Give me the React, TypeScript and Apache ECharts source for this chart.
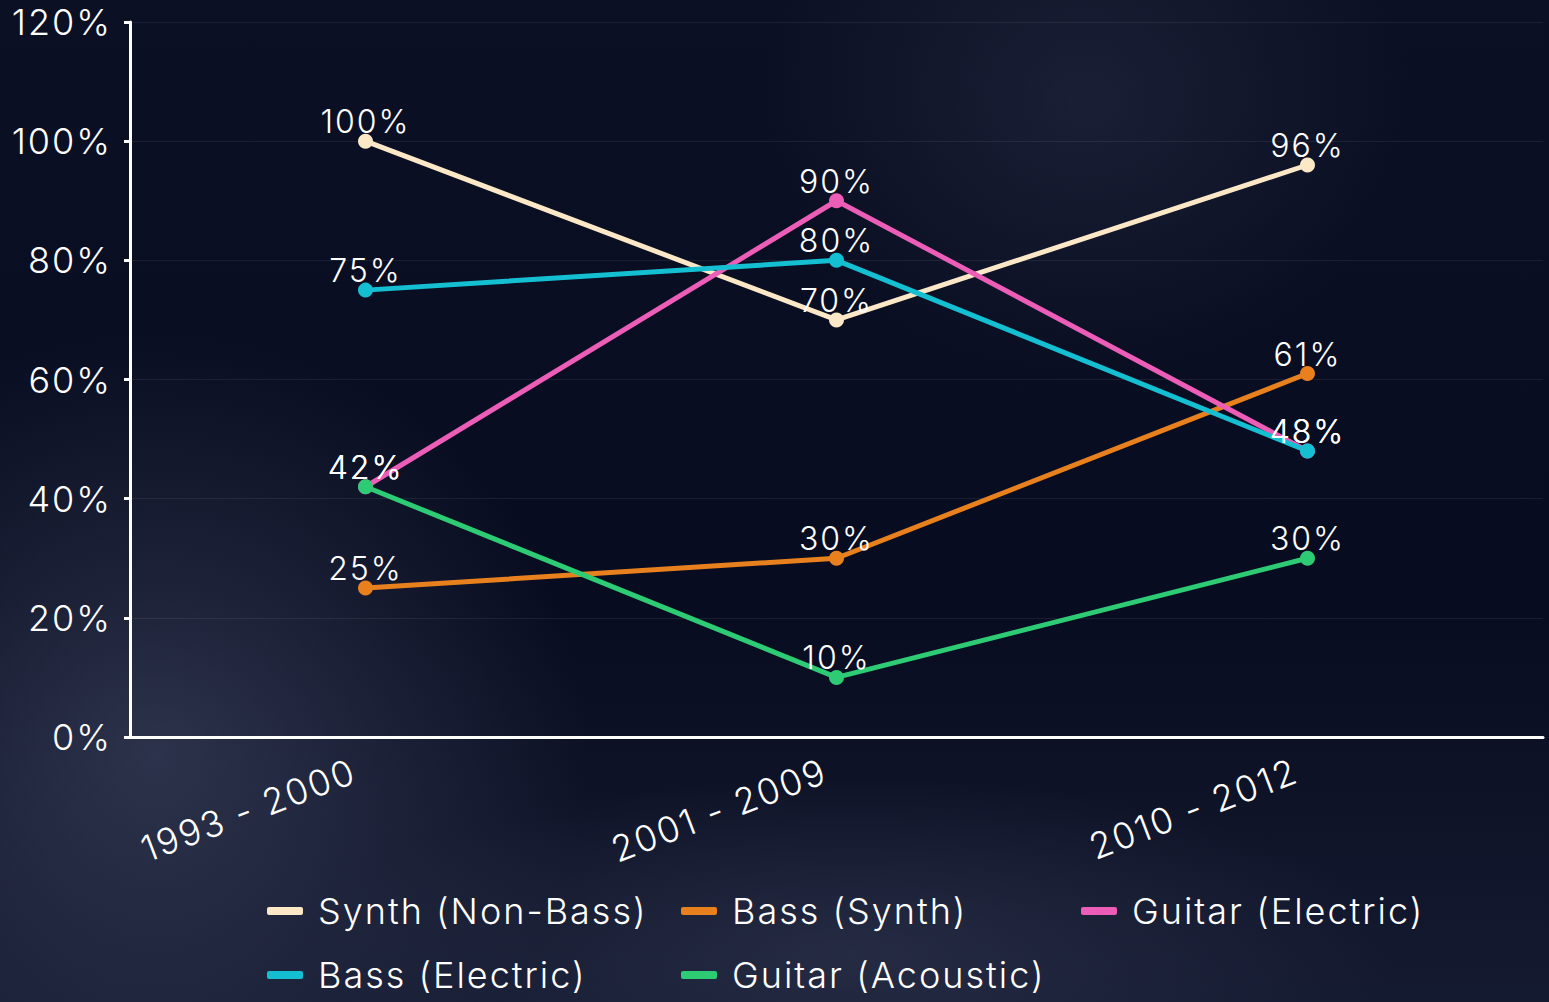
import React, { useEffect, useRef } from "react";
import * as echarts from "echarts";

const categories = ["1993 - 2000", "2001 - 2009", "2010 - 2012"];
const seriesNames = [
  "Synth (Non-Bass)",
  "Bass (Synth)",
  "Guitar (Electric)",
  "Bass (Electric)",
  "Guitar (Acoustic)",
];
const synthNonBass = [100, 70, 96];
const bassSynth = [25, 30, 61];
const guitarElectric = [42, 90, 48];
const bassElectric = [75, 80, 48];
const guitarAcoustic = [42, 10, 30];
const yTicks = [0, 20, 40, 60, 80, 100, 120];

const colors = ["#FCE8C6", "#E8801E", "#EC5DB8", "#14BFD2", "#2DCB73"];
const values = [synthNonBass, bassSynth, guitarElectric, bassElectric, guitarAcoustic];

const FONT = "Inter, 'Noto Sans', sans-serif";
const WEIGHT = 300;

export default function App() {
  const ref = useRef<HTMLDivElement>(null);
  useEffect(() => {
    document.body.style.margin = "0";
    const chart = echarts.init(ref.current!, undefined, { renderer: "svg" });
    const legendCommon = {
      orient: "vertical" as const,
      icon: "roundRect",
      itemWidth: 36,
      itemHeight: 8,
      itemGap: 28,
      textStyle: {
        color: "#ffffff",
        fontSize: 36,
        fontFamily: FONT,
        fontWeight: WEIGHT,
        padding: [0, 0, 0, 10],
      },
      selectedMode: false,
    };
    chart.setOption({
      animation: false,
      backgroundColor: "transparent",
      color: colors,
      grid: { left: 130, right: 6, top: 22, bottom: 265, containLabel: false },
      legend: [
        { ...legendCommon, left: 262, top: 888, data: [seriesNames[0], seriesNames[3]] },
        { ...legendCommon, left: 676, top: 888, data: [seriesNames[1], seriesNames[4]] },
        { ...legendCommon, left: 1076, top: 888, data: [seriesNames[2]] },
      ],
      xAxis: {
        type: "category",
        data: categories,
        boundaryGap: true,
        axisLine: { lineStyle: { color: "#ffffff", width: 3 } },
        axisTick: { show: false },
        axisLabel: {
          color: "#ffffff",
          fontSize: 36,
          fontFamily: FONT,
          fontWeight: WEIGHT,
          rotate: 21,
          margin: 28,
          formatter: (v: string) => v + " ",
        },
      },
      yAxis: {
        type: "value",
        min: 0,
        max: 120,
        interval: 20,
        axisLine: { show: true, lineStyle: { color: "#ffffff", width: 3 } },
        axisTick: { show: true, length: 6, lineStyle: { color: "#ffffff", width: 3 } },
        splitLine: { show: true, lineStyle: { color: "rgba(255,255,255,0.07)", width: 1 } },
        axisLabel: {
          color: "#ffffff",
          fontSize: 36,
          fontFamily: FONT,
          fontWeight: WEIGHT,
          margin: 18,
          formatter: (v: number) => (yTicks.includes(v) ? v + "%" : ""),
        },
      },
      series: seriesNames.map((name, i) => ({
        name,
        type: "line",
        data: values[i],
        symbol: "circle",
        symbolSize: 15,
        lineStyle: { width: 5, color: colors[i] },
        itemStyle: { color: colors[i] },
        label: {
          show: true,
          position: "top",
          distance: -4,
          color: "#ffffff",
          fontSize: 32,
          fontFamily: FONT,
          fontWeight: WEIGHT,
          formatter: (p: any) => p.value + "%",
        },
      })),
    });
    return () => chart.dispose();
  }, []);
  return (
    <div
      id="chartwrap"
      style={{
        position: "fixed",
        left: 0,
        top: 0,
        width: 1549,
        height: 1002,
        background:
          "radial-gradient(ellipse 40% 60% at 10% 75%, rgba(70,78,105,0.55), rgba(0,0,0,0) 70%)," +
          "radial-gradient(ellipse 50% 25% at 55% 95%, rgba(60,66,92,0.45), rgba(0,0,0,0) 70%)," +
          "radial-gradient(ellipse 30% 40% at 70% 10%, rgba(40,46,70,0.5), rgba(0,0,0,0) 70%)," +
          "linear-gradient(180deg, #0b1024 0%, #080c20 60%, #141a30 100%)",
      }}
    >
      <style>{"#chartwrap text { letter-spacing: 2px; }"}</style>
      <div ref={ref} style={{ width: 1549, height: 1002 }} />
    </div>
  );
}
